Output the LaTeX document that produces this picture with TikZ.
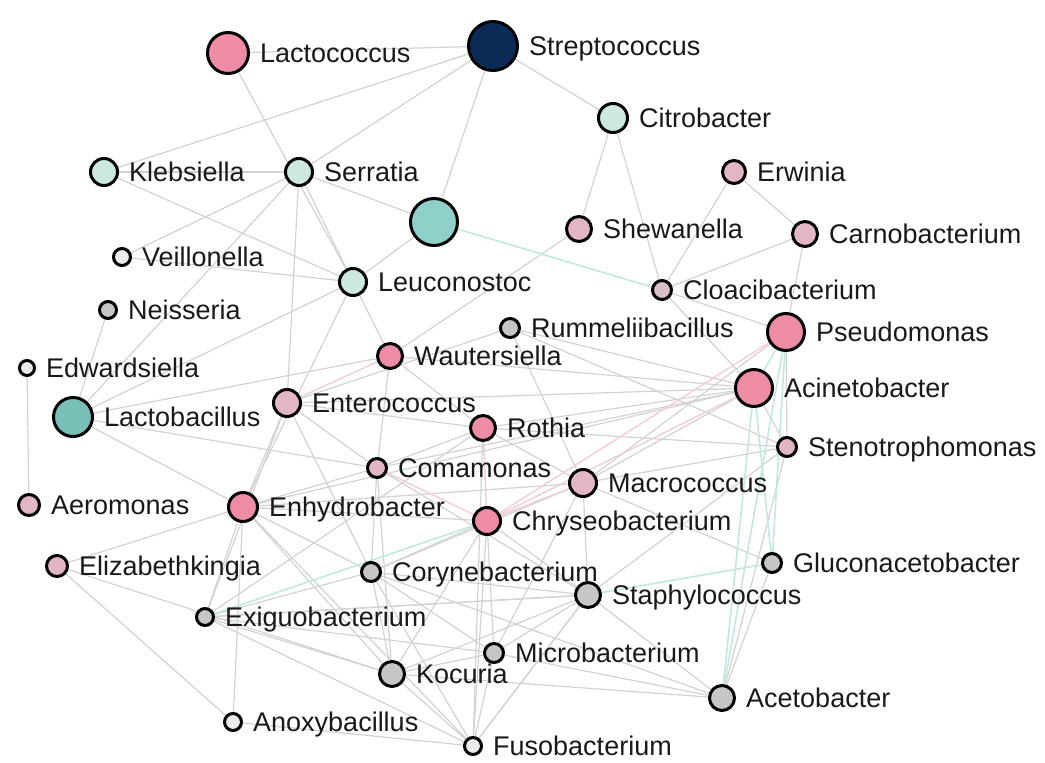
\documentclass[tikz,border=0pt]{standalone}
\usepackage{fontspec}
\setmainfont{Liberation Sans}
\usetikzlibrary{backgrounds}
\definecolor{pkS}{HTML}{EE8CA6}
\definecolor{pkL}{HTML}{E2B6C2}
\definecolor{pkG}{HTML}{D8C0C6}
\definecolor{cyL}{HTML}{CDE8E1}
\definecolor{cyM}{HTML}{8FD0CB}
\definecolor{cyD}{HTML}{78BFB8}
\definecolor{gyN}{HTML}{C6C6C6}
\definecolor{gyW}{HTML}{ECECEC}
\definecolor{navy}{HTML}{0B2A56}
\definecolor{edgeG}{HTML}{D2D2D2}
\definecolor{edgeP}{HTML}{F2CCD6}
\definecolor{edgeC}{HTML}{C2E8E1}
\tikzset{
  bn/.style={circle, draw=black, line width=3pt, inner sep=0pt, minimum size={(2*#1-3)*1pt}},
  lab/.style={font=\fontsize{27}{27}\selectfont, text height=19pt, text depth=0pt, inner sep=0pt, label distance=10pt, text=black!90},
  ed/.style={draw=edgeG, line width=1.2pt},
  edp/.style={draw=edgeP, line width=1.4pt},
  edc/.style={draw=edgeC, line width=1.6pt}
}
\newcommand\bac[6]{\node[bn=#4, fill=#5, label={[lab]0:#6}] (#1) at (#2,#3) {};}
\begin{document}
\begin{tikzpicture}[x=1pt,y=-1pt]
\useasboundingbox (0,0) rectangle (1045,763);
\bac{lacto}{228}{53}{22}{pkS}{Lactococcus}
\bac{strep}{493}{46}{26}{navy}{Streptococcus}
\bac{citro}{613}{118}{16}{cyL}{Citrobacter}
\bac{kleb}{104}{172}{15}{cyL}{Klebsiella}
\bac{serr}{299}{172}{15}{cyL}{Serratia}
\bac{erw}{734}{172}{13}{pkL}{Erwinia}
\bac{bigc}{434}{222}{25}{cyM}{}
\bac{shew}{579}{229}{14}{pkL}{Shewanella}
\bac{carno}{805}{234}{14}{pkL}{Carnobacterium}
\bac{veil}{122}{257}{10}{gyW}{Veillonella}
\bac{leuc}{353}{282}{15}{cyL}{Leuconostoc}
\bac{cloac}{662}{290}{11}{pkG}{Cloacibacterium}
\bac{neis}{108}{310}{10}{gyN}{Neisseria}
\bac{rumm}{510}{328}{11}{gyN}{Rummeliibacillus}
\bac{pseu}{786}{332}{20}{pkS}{Pseudomonas}
\bac{waut}{390}{356}{14}{pkS}{Wautersiella}
\bac{edw}{27}{368}{9}{gyW}{Edwardsiella}
\bac{acin}{754}{388}{20}{pkS}{Acinetobacter}
\bac{entc}{287}{403}{15}{pkL}{Enterococcus}
\bac{lacb}{73}{417}{21}{cyD}{Lactobacillus}
\bac{roth}{483}{428}{14}{pkS}{Rothia}
\bac{sten}{787}{447}{11}{pkL}{Stenotrophomonas}
\bac{coma}{377}{468}{11}{pkL}{Comamonas}
\bac{macr}{583}{483}{15}{pkL}{Macrococcus}
\bac{aero}{29}{505}{12}{pkL}{Aeromonas}
\bac{enhy}{243}{507}{16}{pkS}{Enhydrobacter}
\bac{chry}{487}{521}{15}{pkS}{Chryseobacterium}
\bac{eliz}{57}{566}{12}{pkL}{Elizabethkingia}
\bac{cory}{371}{572}{11}{gyN}{Corynebacterium}
\bac{gluc}{772}{563}{11}{gyN}{Gluconacetobacter}
\bac{stap}{588}{595}{14}{gyN}{Staphylococcus}
\bac{exig}{205}{617}{10}{gyN}{Exiguobacterium}
\bac{micr}{494}{653}{11}{gyN}{Microbacterium}
\bac{koc}{392}{674}{14}{gyN}{Kocuria}
\bac{acet}{722}{698}{14}{gyN}{Acetobacter}
\bac{anox}{233}{722}{10}{gyW}{Anoxybacillus}
\bac{fuso}{473}{746}{10}{gyW}{Fusobacterium}
\begin{scope}[on background layer]
\foreach \a/\b in {strep/lacto, strep/kleb, strep/bigc, strep/citro, strep/serr,
  lacto/leuc, kleb/serr, kleb/leuc, serr/bigc, serr/leuc, serr/entc, serr/veil, serr/lacb,
  veil/leuc, neis/lacb, edw/aero, bigc/leuc, citro/shew, citro/cloac, erw/carno, erw/cloac,
  carno/cloac, carno/pseu, shew/waut, cloac/acin, cloac/pseu, leuc/enhy, leuc/waut, leuc/lacb,
  rumm/sten, rumm/macr, rumm/acin, rumm/entc, waut/acin, waut/roth, waut/lacb, waut/coma,
  pseu/sten, acin/sten, sten/acet, sten/stap, acin/roth, acin/macr, acin/enhy, acin/entc,
  acin/coma, pseu/macr, entc/roth, entc/coma, entc/enhy, entc/cory, entc/exig,
  lacb/enhy, lacb/coma, roth/coma, roth/exig, roth/macr, roth/sten,
  coma/enhy, coma/cory, coma/koc, macr/stap, macr/cory, macr/micr, macr/sten,
  enhy/chry, enhy/eliz, enhy/anox, enhy/exig, enhy/koc, enhy/macr, enhy/cory, enhy/fuso,
  chry/micr, chry/fuso, chry/koc, chry/stap, chry/cory,
  eliz/anox, eliz/koc, cory/stap, cory/koc, cory/micr, cory/fuso, cory/exig, cory/acet,
  gluc/acet, gluc/macr, stap/acet, stap/micr, stap/koc, stap/fuso, stap/exig,
  exig/koc, exig/fuso, exig/micr, micr/fuso, micr/koc, micr/acet, koc/fuso, koc/acet,
  anox/fuso, fuso/stap, exig/stap, roth/fuso, coma/stap}
  \draw[ed] (\a) -- (\b);
\foreach \a/\b in {acin/chry, pseu/chry, roth/chry, coma/chry, macr/chry, waut/entc}
  \draw[edp] (\a) -- (\b);
\foreach \a/\b in {bigc/cloac, pseu/acin, pseu/acet, pseu/gluc, acin/acet, acin/gluc, chry/exig, gluc/stap}
  \draw[edc] (\a) -- (\b);
\end{scope}
\end{tikzpicture}
\end{document}
